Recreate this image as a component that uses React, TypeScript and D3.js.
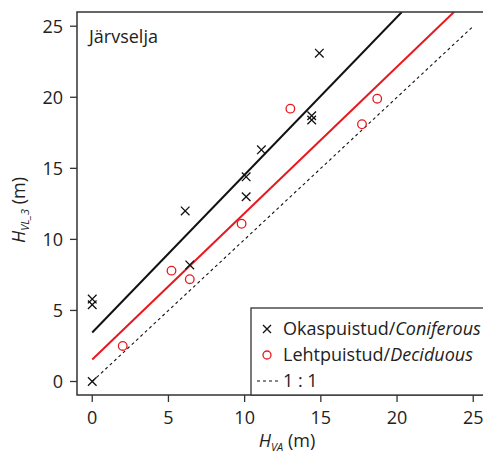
import React from "react";
import * as d3 from "d3";

// Okaspuistud / Coniferous
const conX = [0, 0, 0, 6.4, 6.1, 10.1, 10.1, 11.1, 14.4, 14.4, 14.9];
const conY = [0, 5.4, 5.8, 8.2, 12.0, 13.0, 14.4, 16.3, 18.4, 18.7, 23.1];

// Lehtpuistud / Deciduous
const decX = [2.0, 5.2, 6.4, 9.8, 13.0, 17.7, 18.7];
const decY = [2.5, 7.8, 7.2, 11.1, 19.2, 18.1, 19.9];

// fitted lines: intercept, slope
const conFit = [3.45, 1.11];
const decFit = [1.55, 1.03];

const xTicks = [0, 5, 10, 15, 20, 25];
const yTicks = [0, 5, 10, 15, 20, 25];

const font = "'Open Sans', sans-serif";
const fs = 18;

export default function App() {
  const W = 483;
  const H = 455;
  const left = 77;
  const top = 12;
  const bottom = 395;
  const right = 490;

  const x = d3.scaleLinear().domain([-1, 26.1]).range([left, right]);
  const y = d3.scaleLinear().domain([-0.95, 26]).range([bottom, top]);

  const line = d3
    .line<[number, number]>()
    .x((d) => x(d[0]))
    .y((d) => y(d[1]));

  const fitLine = (f: number[]) => {
    const xEnd = (26 - f[0]) / f[1];
    return line([
      [0, f[0]],
      [xEnd, 26],
    ]);
  };

  const cross = (cx: number, cy: number, key: string | number, s = 4.3) => (
    <path
      key={key}
      d={`M${cx - s},${cy - s}L${cx + s},${cy + s}M${cx - s},${cy + s}L${cx + s},${cy - s}`}
      stroke="#111"
      strokeWidth={1.3}
      fill="none"
    />
  );

  return (
    <svg
      width={W}
      height={H}
      style={{ position: "absolute", left: 0, top: 0, background: "#fff" }}
      fontFamily={font}
    >
      <defs>
        <clipPath id="plot">
          <rect x={left} y={top} width={right - left} height={bottom - top} />
        </clipPath>
      </defs>

      {/* lines */}
      <g clipPath="url(#plot)">
        <path
          d={line([
            [0, 0],
            [25, 25],
          ])!}
          stroke="#111"
          strokeWidth={1.1}
          strokeDasharray="3,3"
          fill="none"
        />
        <path d={fitLine(conFit)!} stroke="#111" strokeWidth={2} fill="none" />
        <path d={fitLine(decFit)!} stroke="#e8191e" strokeWidth={2} fill="none" />
      </g>

      {/* points */}
      {conX.map((v, i) => cross(x(v), y(conY[i]), "c" + i))}
      {decX.map((v, i) => (
        <circle
          key={"d" + i}
          cx={x(v)}
          cy={y(decY[i])}
          r={4.3}
          fill="none"
          stroke="#e8191e"
          strokeWidth={1.3}
        />
      ))}

      {/* frame */}
      <path
        d={`M${W},${top}H${left}V${bottom}H${W}`}
        stroke="#333"
        strokeWidth={1.5}
        fill="none"
      />

      {/* x axis */}
      {xTicks.map((t) => (
        <g key={"x" + t} transform={`translate(${x(t)},${bottom})`}>
          <line y2={7} stroke="#333" strokeWidth={1.3} />
          <text y={29} textAnchor="middle" fontSize={fs} fill="#222">
            {t}
          </text>
        </g>
      ))}

      {/* y axis */}
      {yTicks.map((t) => (
        <g key={"y" + t} transform={`translate(${left},${y(t)})`}>
          <line x2={-7} stroke="#333" strokeWidth={1.3} />
          <text x={-14} dy="0.35em" textAnchor="end" fontSize={fs} fill="#222">
            {t}
          </text>
        </g>
      ))}

      {/* axis titles */}
      <text x={287} y={447} textAnchor="middle" fontSize={fs} fill="#222">
        <tspan fontStyle="italic">H</tspan>
        <tspan fontStyle="italic" fontSize={11} dy={4}>
          VA
        </tspan>
        <tspan dy={-4}> (m)</tspan>
      </text>
      <text
        transform={`translate(25,210) rotate(-90)`}
        textAnchor="middle"
        fontSize={fs}
        fill="#222"
      >
        <tspan fontStyle="italic">H</tspan>
        <tspan fontStyle="italic" fontSize={11} dy={4}>
          VL_3
        </tspan>
        <tspan dy={-4}> (m)</tspan>
      </text>

      <text x={89} y={43} fontSize={fs} fill="#222">
        Järvselja
      </text>

      {/* legend */}
      <rect x={251} y={308} width={W} height={bottom - 308} fill="#fff" stroke="#333" strokeWidth={1.3} />
      {cross(267, 329, "lg1", 4)}
      <circle cx={267} cy={355} r={4} fill="none" stroke="#e8191e" strokeWidth={1.3} />
      <line x1={257} x2={278} y1={381} y2={381} stroke="#111" strokeWidth={1.1} strokeDasharray="3,3" />
      <text x={283} y={335} fontSize={fs} fill="#222">
        Okaspuistud/<tspan fontStyle="italic">Coniferous</tspan>
      </text>
      <text x={283} y={361} fontSize={fs} fill="#222">
        Lehtpuistud/<tspan fontStyle="italic">Deciduous</tspan>
      </text>
      <text x={283} y={387} fontSize={fs} fill="#222">
        1 : 1
      </text>
    </svg>
  );
}
